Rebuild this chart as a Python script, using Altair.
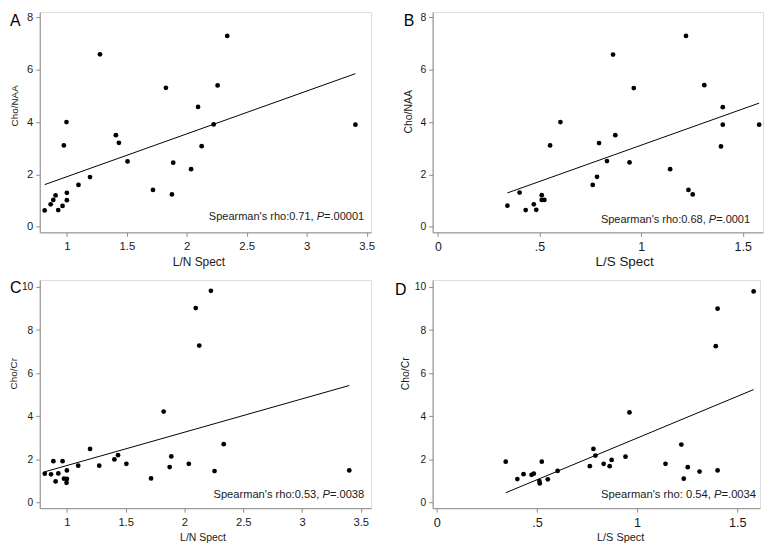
import altair as alt
import pandas as pd

# ---------------- data ----------------
# Panel A: L/N Spect vs Cho/NAA
a_ln = [0.815, 0.865, 0.887, 0.906, 0.928, 0.964, 0.975, 0.997, 1.0, 1.0, 1.097, 1.193, 1.276, 1.409,
        1.434, 1.506, 1.718, 1.826, 1.876, 1.887, 2.036, 2.094, 2.124, 2.224, 2.257, 2.337, 3.406]
a_naa = [0.625, 0.86, 1.03, 1.2, 0.64, 0.80, 3.11, 4.0, 1.3, 1.02, 1.6, 1.9, 6.59, 3.5,
         3.21, 2.5, 1.41, 5.31, 1.24, 2.45, 2.2, 4.58, 3.08, 3.91, 5.4, 7.29, 3.9]
# Panel B: L/S Spect vs Cho/NAA
b_ls = [0.342, 0.402, 0.432, 0.472, 0.484, 0.511, 0.511, 0.524, 0.552, 0.603, 0.762, 0.783, 0.793, 0.832,
        0.862, 0.873, 0.943, 0.964, 1.143, 1.221, 1.233, 1.254, 1.311, 1.393, 1.402, 1.402, 1.581]
b_naa = [0.81, 1.31, 0.64, 0.86, 0.65, 1.21, 1.03, 1.03, 3.11, 4.0, 1.60, 1.91, 3.2, 2.51,
         6.58, 3.5, 2.46, 5.3, 2.2, 7.29, 1.41, 1.24, 5.41, 3.07, 4.57, 3.9, 3.9]
# Panel C: L/N Spect vs Cho/Cr
c_ln = [0.812, 0.865, 0.885, 0.904, 0.927, 0.963, 0.975, 0.997, 1.0, 1.0, 1.096, 1.197, 1.275, 1.404,
        1.435, 1.506, 1.716, 1.823, 1.874, 1.888, 2.037, 2.096, 2.126, 2.225, 2.256, 2.334, 3.402]
c_cr = [1.34, 1.31, 1.92, 0.98, 1.35, 1.92, 1.11, 0.92, 1.49, 1.1, 1.71, 2.49, 1.71, 2.0,
        2.2, 1.8, 1.12, 4.22, 1.65, 2.14, 1.8, 9.02, 7.28, 9.82, 1.46, 2.71, 1.49]
# Panel D: L/S Spect vs Cho/Cr
d_ls = [0.344, 0.402, 0.433, 0.473, 0.484, 0.512, 0.514, 0.524, 0.554, 0.603, 0.764, 0.782, 0.792, 0.833,
        0.863, 0.873, 0.942, 0.962, 1.142, 1.221, 1.233, 1.253, 1.312, 1.393, 1.402, 1.402, 1.582]
d_cr = [1.90, 1.09, 1.32, 1.29, 1.34, 1.0, 0.89, 1.9, 1.08, 1.47, 1.69, 2.49, 2.18, 1.8,
        1.69, 1.98, 2.13, 4.18, 1.8, 2.69, 1.11, 1.64, 1.44, 7.25, 8.99, 1.49, 9.79]

ln_ticks = [1, 1.5, 2, 2.5, 3, 3.5]
ls_ticks = [0, 0.5, 1, 1.5]
naa_ticks = [0, 2, 4, 6, 8]
cr_ticks = [0, 2, 4, 6, 8, 10]

stats = {
    "A": ("Spearman's rho:0.71,", "=.00001"),
    "B": ("Spearman's rho:0.68,", "=.0001"),
    "C": ("Spearman's rho:0.53,", "=.0038"),
    "D": ("Spearman's rho: 0.54,", "=.0034"),
}

FONT = "Liberation Sans"
AXC = "#8c8c8c"
TXT = "#1a1a1a"

# Arial-metric widths (em) for placing the italic P
WID = {"=": 0.584, ".": 0.278, ",": 0.278, " ": 0.278, "P": 0.667}


def tw(s, fs):
    return sum(WID.get(ch, 0.556) for ch in s) * fs


def panel(xs, ys, xdom, ydom, xticks, yticks, w, h, letter, letter_pos,
          xtitle, ytitle, fs, tpos, key, ann_pos, ann_fs, xfmt):
    df = pd.DataFrame({"x": xs, "y": ys})
    xlab_fs, ylab_fs, xtit_fs, ytit_fs = fs
    xtx, xty, ytx, yty = tpos
    common = dict(grid=False, domainColor=AXC, tickColor=AXC, tickSize=4, labelColor=TXT,
                  titleColor=TXT, labelFont=FONT, titleFont=FONT, titleFontWeight="normal",
                  labelFontWeight="normal", labelFlush=False, labelOverlap=False)
    xenc = alt.X("x:Q",
                 scale=alt.Scale(domain=xdom, nice=False, zero=False),
                 axis=alt.Axis(values=xticks, labelExpr=xfmt, title=xtitle,
                               labelFontSize=xlab_fs, titleFontSize=xtit_fs,
                               titleX=xtx, titleY=xty, titleBaseline="alphabetic",
                               titleAlign="center", labelPadding=4, **common))
    yenc = alt.Y("y:Q",
                 scale=alt.Scale(domain=ydom, nice=False, zero=False),
                 axis=alt.Axis(values=yticks, labelExpr="toString(datum.value)", title=ytitle,
                               labelFontSize=ylab_fs, titleFontSize=ytit_fs,
                               titleX=ytx, titleY=yty, titleBaseline="alphabetic",
                               titleAlign="center", titleAngle=270, labelPadding=3, **common))
    base = alt.Chart(df)
    pts = base.mark_circle(size=23, color="black", opacity=1).encode(x=xenc, y=yenc)
    reg = base.transform_regression("x", "y").mark_line(color="black", strokeWidth=1).encode(x=xenc, y=yenc)

    lx, ly = letter_pos
    let = alt.Chart(pd.DataFrame({"t": [letter]})).mark_text(
        align="left", baseline="top", fontSize=16, font=FONT, color="black"
    ).encode(text="t:N", x=alt.value(lx), y=alt.value(ly))

    pre, post = stats[key]
    ax, ay = ann_pos
    x_post = ax
    x_p = ax - tw(post, ann_fs)
    x_pre = x_p - tw("P", ann_fs) - tw(" ", ann_fs)
    t1 = alt.Chart(pd.DataFrame({"t": [pre]})).mark_text(
        align="right", baseline="alphabetic", fontSize=ann_fs, font=FONT, color=TXT
    ).encode(text="t:N", x=alt.value(x_pre), y=alt.value(ay))
    t2 = alt.Chart(pd.DataFrame({"t": ["P"]})).mark_text(
        align="right", baseline="alphabetic", fontSize=ann_fs, font=FONT, color=TXT, fontStyle="italic"
    ).encode(text="t:N", x=alt.value(x_p), y=alt.value(ay))
    t3 = alt.Chart(pd.DataFrame({"t": [post]})).mark_text(
        align="right", baseline="alphabetic", fontSize=ann_fs, font=FONT, color=TXT
    ).encode(text="t:N", x=alt.value(x_post), y=alt.value(ay))

    return alt.layer(reg, pts, let, t1, t2, t3).properties(width=w, height=h)


dot5 = "datum.value == 0.5 ? '.5' : toString(datum.value)"
plain = "toString(datum.value)"

pA = panel(a_ln, a_naa, [0.774, 3.537], [-0.21, 8.2], ln_ticks, naa_ticks, 334, 222,
           "A", (-30, 1), "L/N Spect", "Cho/NAA", (11.5, 11.3, 12, 10),
           (160, 33, -22, 94), "A", (327, 210), 11.1, plain)
pB = panel(b_ls, b_naa, [-0.026, 1.60], [-0.21, 8.2], ls_ticks, naa_ticks, 333, 222,
           "B", (-29, 1), "L/S Spect", "Cho/NAA", (12.5, 10.5, 13.5, 10.5),
           (193, 33, -21, 100), "B", (320, 213), 11.1, dot5)
pC = panel(c_ln, c_cr, [0.769, 3.588], [-0.257, 10.32], ln_ticks, cr_ticks, 334, 230,
           "C", (-30, 0), "L/N Spect", "Cho/Cr", (11.3, 10.3, 10.5, 10),
           (164, 33, -23, 94), "C", (327, 220), 11.2, plain)
pD = panel(d_ls, d_cr, [-0.021, 1.614], [-0.257, 10.32], ls_ticks, cr_ticks, 330, 230,
           "D", (-38, 2), "L/S Spect", "Cho/Cr", (12.8, 10.3, 11, 10.5),
           (189, 33, -24, 94), "D", (326, 220), 11.3, dot5)

chart = alt.concat(pA, pB, pC, pD, columns=2, spacing={"row": 48, "column": 62},
                   bounds="flush").properties(
    padding={"left": 0, "top": 0, "right": 0, "bottom": 0}
).configure_view(stroke=None).configure(background="white")

chart.save("out.html", embed_options={"renderer": "svg", "actions": False})
